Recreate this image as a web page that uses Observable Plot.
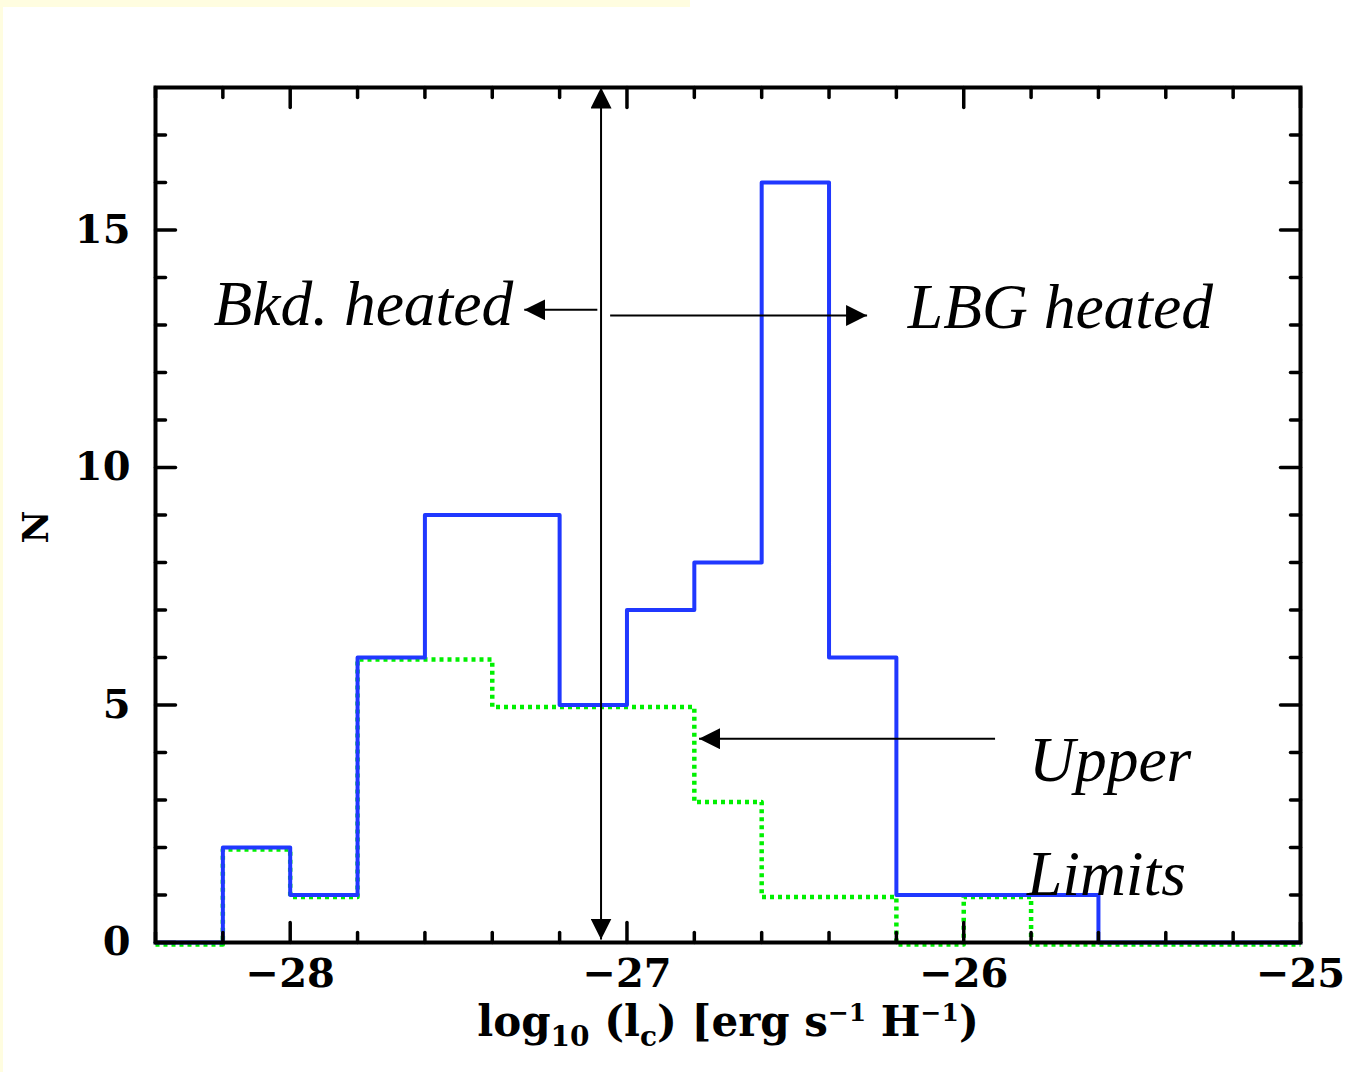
<!DOCTYPE html>
<html><head><meta charset="utf-8">
<script src="https://cdn.jsdelivr.net/npm/d3@7"></script>
<script src="https://cdn.jsdelivr.net/npm/@observablehq/plot@0.6"></script>
<style>
body{margin:0;background:#fff;}
#wrap{position:relative;width:1369px;height:1072px;overflow:hidden;}
.strip{position:absolute;background:#fffde0;pointer-events:none;}
</style></head><body>
<div id="wrap"></div>
<script>
// ---- data ----
const binEdges = [-28.4,-28.2,-28.0,-27.8,-27.6,-27.4,-27.2,-27.0,-26.8,-26.6,-26.4,-26.2,-26.0,-25.8,-25.6,-25.4,-25.2,-25.0];
const blueCounts  = [0,2,1,6,9,9,5,7,8,16,6,1,1,1,0,0,0];
const greenCounts = [0,2,1,6,6,5,5,5,3,1,1,0,1,0,0,0,0];

const xMajorTicks = [-28,-27,-26,-25];
const xMinorTicks = [-28.4,-28.2,-27.8,-27.6,-27.4,-27.2,-26.8,-26.6,-26.4,-26.2,-25.8,-25.6,-25.4,-25.2];
const yMajorTicks = [0,5,10,15];
const yMinorTicks = [1,2,3,4,6,7,8,9,11,12,13,14,16,17];

const xLabel = "log10 (lc) [erg s-1 H-1)";
const yLabel = "N";

const annoEndText = ["Bkd. heated"];
const annoEndX = [-27.338];
const annoEndY = [13.0];
const annoStartText = ["LBG heated", "Upper", "Limits"];
const annoStartX = [-26.166, -25.806, -25.812];
const annoStartY = [12.93, 3.41, 0.99];

const arrowX1 = [-27.088, -27.050, -25.907];
const arrowX2 = [-27.305, -26.287, -26.786];
const arrowY1 = [13.32, 13.20, 4.29];
const arrowY2 = [13.32, 13.20, 4.29];
const dblX = [-27.077];
const dblY1 = [0.063];
const dblY2 = [18];

// ---- build ----
const steps = counts => binEdges.map((x, i) => ({x, y: counts[Math.min(i, counts.length - 1)]}));
const blueSteps = steps(blueCounts);
const greenSteps = steps(greenCounts);
const arrows = arrowX1.map((d, i) => ({x1: d, x2: arrowX2[i], y1: arrowY1[i], y2: arrowY2[i]}));
const dbl = dblX.map((d, i) => ({x1: d, x2: d, y1: dblY1[i], y2: dblY2[i]}));

const tickShape = {draw(ctx, l) { ctx.moveTo(0, 0); ctx.lineTo(0, -l); }};
const tk = (data, ch, side, len) => Plot.vector(data, {
  [ch]: d => d, frameAnchor: side, length: len, anchor: "start", shape: tickShape,
  rotate: side === "bottom" ? 0 : side === "top" ? 180 : side === "left" ? 90 : -90,
  stroke: "black", strokeWidth: 3.5
});

const serifBold = {fontFamily: "'DejaVu Serif', serif", fontWeight: "bold"};
const italic = {fontFamily: "'Liberation Serif', 'Times New Roman', serif", fontStyle: "italic", fontSize: 63.5, fill: "black"};

const chart = Plot.plot({
  width: 1369, height: 1072,
  marginLeft: 155, marginRight: 69, marginTop: 87, marginBottom: 130,
  x: {domain: [-28.4, -25]},
  y: {domain: [0, 18]},
  style: {background: "transparent", overflow: "visible"},
  marks: [
    Plot.line(greenSteps, {x: "x", y: "y", curve: "step-after", stroke: "#00f000", strokeWidth: 4.5, strokeDasharray: "4,4", strokeLinecap: "butt", dy: 2}),
    Plot.line(blueSteps, {x: "x", y: "y", curve: "step-after", stroke: "#2038ff", strokeWidth: 4}),
    tk(xMajorTicks, "x", "bottom", 20), tk(xMajorTicks, "x", "top", 20),
    tk(xMinorTicks, "x", "bottom", 10), tk(xMinorTicks, "x", "top", 10),
    tk(yMajorTicks, "y", "left", 20), tk(yMajorTicks, "y", "right", 20),
    tk(yMinorTicks, "y", "left", 10), tk(yMinorTicks, "y", "right", 10),
    Plot.frame({stroke: "black", strokeWidth: 4}),
    Plot.axisX({ticks: xMajorTicks, anchor: "bottom", tickSize: 0, tickPadding: 16, tickFormat: d3.format("d"),
      fontSize: 40, ...serifBold, label: xLabel, labelAnchor: "center", labelOffset: 93}),
    Plot.axisY({ticks: yMajorTicks, anchor: "left", tickSize: 0, tickPadding: 25, tickFormat: d3.format("d"),
      fontSize: 40, ...serifBold, label: null}),
    Plot.text([yLabel], {text: d => d, y: () => 8.40, frameAnchor: "left", dx: -119, rotate: -90,
      fontSize: 36, ...serifBold, fill: "black"}),
    Plot.link(arrows, {x1: "x1", x2: "x2", y1: "y1", y2: "y2", stroke: "black", strokeWidth: 2, ariaDescription: "single"}),
    Plot.link(dbl, {x1: "x1", x2: "x2", y1: "y1", y2: "y2", stroke: "black", strokeWidth: 2, ariaDescription: "double"}),
    Plot.text(annoEndText, {text: d => d, x: (d, i) => annoEndX[i], y: (d, i) => annoEndY[i], textAnchor: "end", lineAnchor: "bottom", ...italic}),
    Plot.text(annoStartText, {text: d => d, x: (d, i) => annoStartX[i], y: (d, i) => annoStartY[i], textAnchor: "start", lineAnchor: "bottom", ...italic})
  ]
});

// arrowheads
const svg = d3.select(chart);
const defs = svg.insert("defs", ":first-child");
defs.append("marker").attr("id", "ahead").attr("viewBox", "0 0 10 10").attr("refX", 10).attr("refY", 5)
  .attr("markerUnits", "userSpaceOnUse").attr("markerWidth", 21).attr("markerHeight", 21)
  .attr("preserveAspectRatio", "none").attr("orient", "auto-start-reverse")
  .append("path").attr("d", "M0,0L10,5L0,10Z").attr("fill", "black");
svg.selectAll('g[aria-description="single"] path').attr("marker-end", "url(#ahead)");
svg.selectAll('g[aria-description="double"] path').attr("marker-end", "url(#ahead)").attr("marker-start", "url(#ahead)");

// x label with sub/superscripts
const lab = svg.select('g[aria-label="x-axis label"] text');
if (!lab.empty()) {
  lab.text(null);
  const parts = [["log", 0, 42], ["10", 10, 28], [" (l", 0, 42], ["c", 10, 28], [") [erg s", 0, 42], ["−1", -15, 25], [" H", 0, 42], ["−1", -15, 25], [")", 0, 42]];
  let prev = 0;
  for (const [t, dy, fs] of parts) {
    lab.append("tspan").attr("dy", dy - prev).attr("font-size", fs).text(t);
    prev = dy;
  }
  lab.attr("font-size", 42).attr("font-family", "'DejaVu Serif', serif").attr("font-weight", "bold");
}

const wrap = document.getElementById("wrap");
wrap.appendChild(chart);
const s1 = document.createElement("div"); s1.className = "strip";
s1.style.cssText = "left:0;top:0;width:690px;height:7px;"; wrap.appendChild(s1);
const s2 = document.createElement("div"); s2.className = "strip";
s2.style.cssText = "left:0;top:0;width:3px;height:1072px;"; wrap.appendChild(s2);
</script>
</body></html>
